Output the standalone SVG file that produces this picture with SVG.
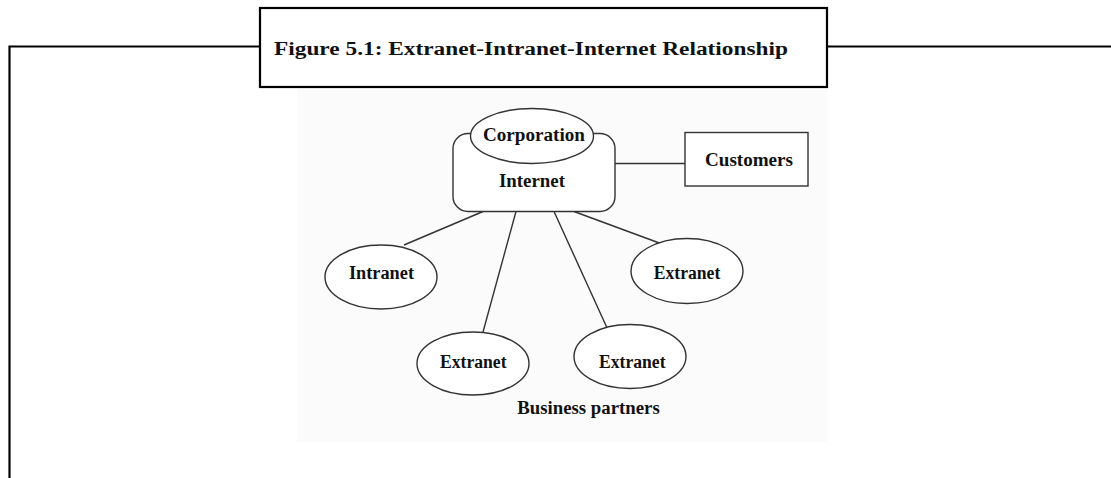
<svg xmlns="http://www.w3.org/2000/svg" width="1111" height="478" viewBox="0 0 1111 478">
<style>
.frame{fill:none;stroke:#000;stroke-width:2.2}
.shape{fill:#fff;stroke:#333;stroke-width:1.4}
.conn{fill:none;stroke:#333;stroke-width:1.4}
text{font-family:"Liberation Serif","Times New Roman",serif;font-weight:bold;font-size:18px;fill:#111;text-anchor:middle}
</style>
<rect width="1111" height="478" fill="#fff"/>
<rect x="297" y="89" width="530" height="353" fill="#fbfbfb"/>
<g id="frame">
<polyline class="frame" points="9.5,478 9.5,46.5 260,46.5"/>
<line class="frame" x1="827" y1="46.5" x2="1111" y2="46.5"/>
</g>
<g id="title">
<rect class="frame" x="260" y="8" width="567" height="79"/>
<text x="531" y="54.5" style="font-size:18.5px" textLength="514" lengthAdjust="spacingAndGlyphs">Figure 5.1: Extranet-Intranet-Internet Relationship</text>
</g>
<g id="connectors">
<line class="conn" x1="615" y1="163.5" x2="685" y2="163.5"/>
<line class="conn" x1="483" y1="211.5" x2="404" y2="245"/>
<line class="conn" x1="516" y1="211.5" x2="483" y2="332"/>
<line class="conn" x1="554" y1="211.5" x2="608" y2="330"/>
<line class="conn" x1="574" y1="211.5" x2="662" y2="244"/>
</g>
<g id="internet">
<rect class="shape" x="453" y="133.5" width="162" height="78" rx="15"/>
<text x="532" y="187" textLength="66" lengthAdjust="spacingAndGlyphs">Internet</text>
</g>
<g id="corporation">
<ellipse class="shape" cx="532" cy="136" rx="61.5" ry="27.5"/>
<text x="534" y="141" textLength="102" lengthAdjust="spacingAndGlyphs">Corporation</text>
</g>
<g id="customers">
<rect class="shape" x="685" y="132.5" width="123" height="53.5"/>
<text x="749" y="165.5" textLength="88" lengthAdjust="spacingAndGlyphs">Customers</text>
</g>
<g id="intranet">
<ellipse class="shape" cx="381" cy="277" rx="56" ry="32"/>
<text x="381.5" y="279" textLength="65" lengthAdjust="spacingAndGlyphs">Intranet</text>
</g>
<g id="extranet1">
<ellipse class="shape" cx="473" cy="363.5" rx="56" ry="31.5"/>
<text x="473.3" y="367.5" textLength="66.5" lengthAdjust="spacingAndGlyphs">Extranet</text>
</g>
<g id="extranet2">
<ellipse class="shape" cx="630" cy="356.5" rx="56" ry="32"/>
<text x="632.3" y="367.5" textLength="66.5" lengthAdjust="spacingAndGlyphs">Extranet</text>
</g>
<g id="extranet3">
<ellipse class="shape" cx="687" cy="271" rx="56" ry="32.5"/>
<text x="687" y="279" textLength="66.5" lengthAdjust="spacingAndGlyphs">Extranet</text>
</g>
<g id="business-partners">
<text x="588.5" y="414" textLength="142.5" lengthAdjust="spacingAndGlyphs">Business partners</text>
</g>
</svg>
